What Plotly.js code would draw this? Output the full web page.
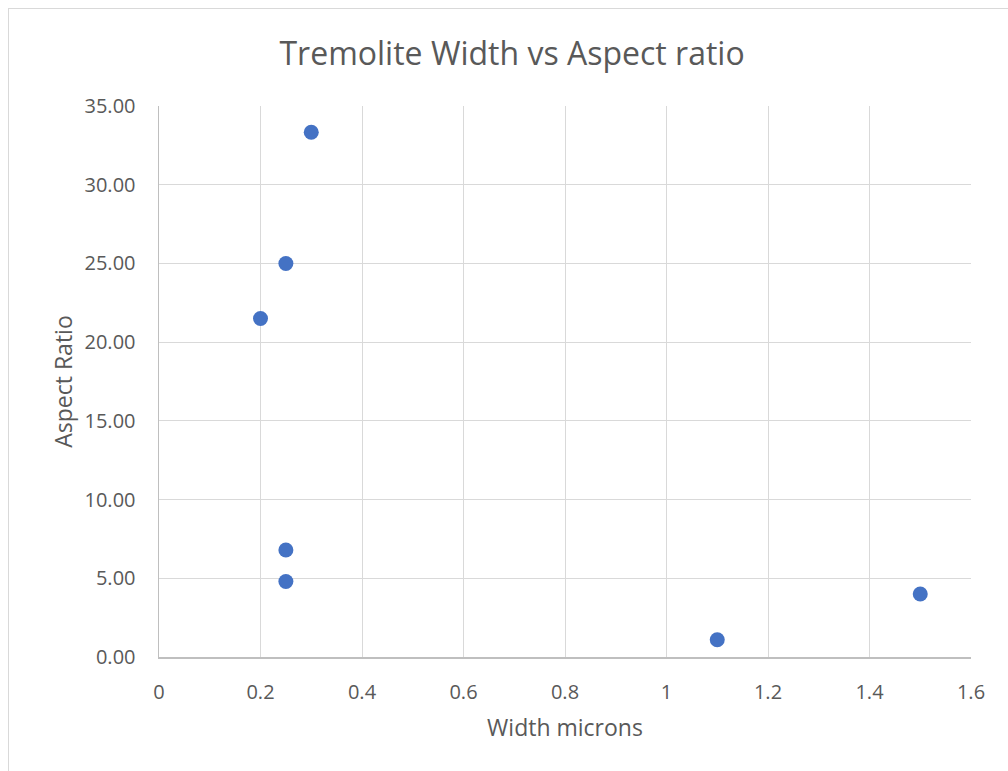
<!DOCTYPE html>
<html>
<head>
<meta charset="utf-8">
<script src="https://cdn.plot.ly/plotly-3.0.1.min.js"></script>
<style>
html,body{margin:0;padding:0;background:#fff;overflow:hidden;}
#frame{position:absolute;left:8px;top:8px;width:1100px;height:900px;border:1px solid #d9d9d9;box-sizing:border-box;}
#chart{position:absolute;left:0;top:0;width:1008px;height:771px;}
</style>
</head>
<body>
<div id="frame"></div>
<div id="chart"></div>
<script>
const widthMicrons = [0.2, 0.25, 0.3, 0.25, 0.25, 1.1, 1.5];
const aspectRatio = [21.5, 25.0, 33.33, 6.8, 4.8, 1.1, 4.0];
const xTickVals = [0, 0.2, 0.4, 0.6, 0.8, 1, 1.2, 1.4, 1.6];
const xTickText = ["0", "0.2", "0.4", "0.6", "0.8", "1", "1.2", "1.4", "1.6"];
const yTickVals = [0, 5, 10, 15, 20, 25, 30, 35];
const yTickText = ["0.00", "5.00", "10.00", "15.00", "20.00", "25.00", "30.00", "35.00"];

const font = "Open Sans, Liberation Sans, sans-serif";
const trace = {
  x: widthMicrons, y: aspectRatio, type: 'scatter', mode: 'markers',
  marker: {size: 15, color: '#4472C4'}, hoverinfo: 'x+y', showlegend: false
};
const layout = {
  width: 1008, height: 771,
  paper_bgcolor: 'rgba(0,0,0,0)', plot_bgcolor: '#fff',
  margin: {l: 159, r: 37, t: 106, b: 114},
  font: {family: font, color: '#595959', size: 20},
  title: {text: 'Tremolite Width vs Aspect ratio', font: {size: 32, color: '#595959', family: font},
          x: 0.508, xref: 'container', y: 0.93, yref: 'container', xanchor: 'center', yanchor: 'middle'},
  xaxis: {range: [0, 1.6], tickvals: xTickVals, ticktext: xTickText, showgrid: true, gridcolor: '#d9d9d9', gridwidth: 1,
          showline: true, linecolor: '#bfbfbf', linewidth: 1.5, zeroline: false, ticks: '', ticklabelstandoff: 16,
          tickfont: {size: 20, color: '#595959'}, mirror: false,
          title: {text: 'Width microns', font: {size: 23, color: '#595959'}, standoff: 16}},
  yaxis: {range: [0, 35], tickvals: yTickVals, ticktext: yTickText, showgrid: true, gridcolor: '#d9d9d9', gridwidth: 1,
          showline: true, linecolor: '#bfbfbf', linewidth: 1.5, zeroline: false, ticks: '', ticklabelstandoff: 18,
          tickfont: {size: 20, color: '#595959'},
          title: {text: 'Aspect Ratio', font: {size: 23, color: '#595959'}, standoff: 5}}
};
Plotly.newPlot('chart', [trace], layout, {displayModeBar: false, staticPlot: true});
</script>
</body>
</html>
